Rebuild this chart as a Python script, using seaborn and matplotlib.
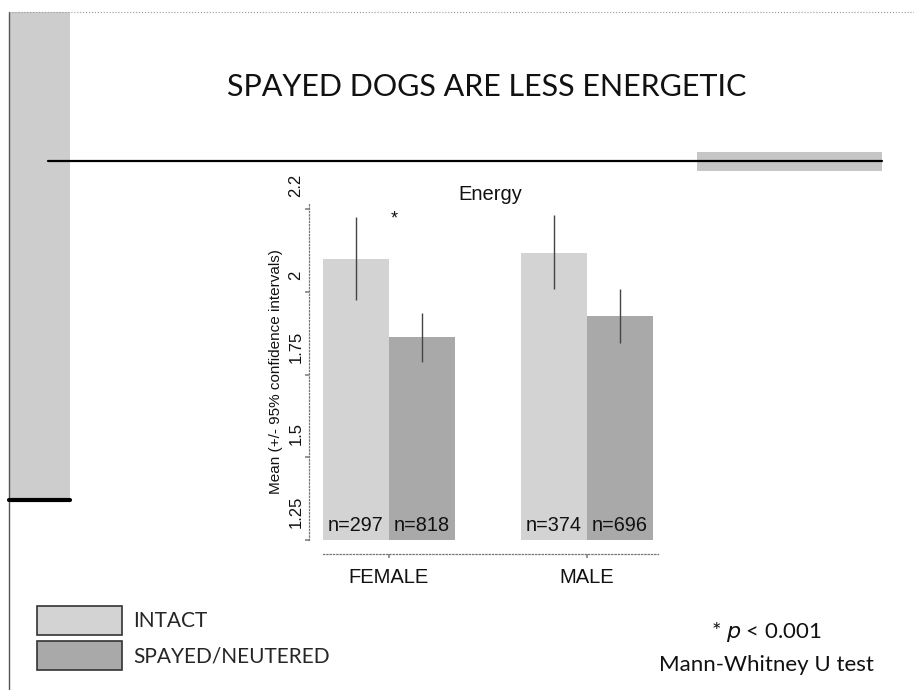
import matplotlib
matplotlib.use("Agg")
import matplotlib.pyplot as plt
import matplotlib.patches as mpatches
import matplotlib.transforms as mtransforms
import seaborn as sns
import pandas as pd

# ---- data ----
sexes = ["FEMALE", "FEMALE", "MALE", "MALE"]
status = ["INTACT", "SPAYED/NEUTERED", "INTACT", "SPAYED/NEUTERED"]
means = [2.10, 1.863, 2.119, 1.927]
ci_low = [1.976, 1.789, 2.009, 1.845]
ci_high = [2.227, 1.937, 2.233, 2.009]
n_labels = ["n=297", "n=818", "n=374", "n=696"]
ytick_vals = [1.25, 1.5, 1.75, 2.0, 2.25]
ytick_labels = ["1.25", "1.5", "1.75", "2", "2.2"]

df = pd.DataFrame({"sex": sexes, "status": status, "mean": means,
                   "lo": ci_low, "hi": ci_high, "n": n_labels})

sns.set_theme(style="white")
plt.rcParams["font.family"] = ["Liberation Sans", "DejaVu Sans"]

W, H = 914, 690
fig = plt.figure(figsize=(W / 100, H / 100), dpi=100)

def fx(px):
    return px / W

def fy(py):
    return 1 - py / H

SLIDE_FONT = ["Lato", "DejaVu Sans"]

# ---- slide decoration ----
deco = fig.add_axes([0, 0, 1, 1], zorder=0)
deco.set_xlim(0, W)
deco.set_ylim(H, 0)
deco.axis("off")
deco.add_patch(mpatches.Rectangle((10, 12), 60, 488, color="#cdcdcd", lw=0))
deco.add_patch(mpatches.Rectangle((697, 152), 185, 19, color="#c6c6c6", lw=0))
deco.plot([9, 9], [12, 690], color="#555555", lw=1)
deco.plot([9, 914], [12, 12], color="#999999", lw=0.8, ls=":")
deco.plot([48, 882], [161, 161], color="black", lw=1.6)
deco.plot([9, 70], [500, 500], color="black", lw=3)

fig.text(fx(487), fy(87), "SPAYED DOGS ARE LESS ENERGETIC", ha="center", va="center",
         fontsize=22, family=SLIDE_FONT, color="#111111")

# ---- chart ----
ax = fig.add_axes([fx(323), fy(540), fx(658) - fx(323), fy(203) - fy(540)], zorder=1)
ax.patch.set_alpha(0)
palette = {"INTACT": "#d3d3d3", "SPAYED/NEUTERED": "#a9a9a9"}
sns.barplot(data=df, x="sex", y="mean", hue="status", palette=palette,
            errorbar=None, width=0.667, ax=ax, saturation=1, linewidth=0)

ax.set_xlim(-0.333, 1.36)
ax.set_ylim(1.25, 2.269)

bars = [p for p in ax.patches if p.get_height() > 0][:4]
sorted_bars = sorted(bars, key=lambda b: b.get_x())
for bar, (_, row) in zip(sorted_bars, df.iterrows()):
    xc = bar.get_x() + bar.get_width() / 2
    ax.errorbar([xc], [row["mean"]], yerr=[[row["mean"] - row["lo"]], [row["hi"] - row["mean"]]],
                fmt="none", ecolor="#444444", elinewidth=1, capsize=0, zorder=3)
    ax.text(xc, 1.295, row["n"], ha="center", va="center", fontsize=14.3, color="#111111")

ax.text(0.025, 2.22, "*", ha="center", va="center", fontsize=13, color="#111111")
ax.set_title("Energy", fontsize=14.5, pad=2, color="#111111", x=0.5)

ax.set_yticks(ytick_vals)
ax.set_yticklabels(ytick_labels)
ax.set_ylabel("Mean (+/- 95% confidence intervals)", fontsize=11, labelpad=4, color="#111111")
ax.set_xlabel("")
ax.tick_params(axis="x", labelsize=14.5, length=3, color="#888888", pad=7, bottom=True,
               labelcolor="#111111")
ax.tick_params(axis="y", labelsize=12, length=3, color="#888888", pad=1, left=True,
               labelrotation=90, labelcolor="#111111")
sns.despine(ax=ax, offset=10)
for s in ["left", "bottom"]:
    ax.spines[s].set_linestyle(":")
    ax.spines[s].set_color("#777777")
    ax.spines[s].set_linewidth(0.9)

shift = mtransforms.ScaledTranslation(0, 12 / 100, fig.dpi_scale_trans)
for lbl in ax.get_yticklabels():
    lbl.set_va("bottom")
    lbl.set_transform(lbl.get_transform() + shift)

handles, labels = ax.get_legend_handles_labels()
if ax.get_legend() is not None:
    ax.get_legend().remove()
leg = fig.legend(handles, labels, loc="upper left", bbox_to_anchor=(fx(37), fy(606)),
                 frameon=False, handlelength=4.1, handleheight=1.75,
                 labelspacing=0.3, handletextpad=0.5, borderpad=0, borderaxespad=0,
                 prop={"family": SLIDE_FONT, "size": 15})
for p in leg.get_patches():
    p.set_edgecolor("#333333")
    p.set_linewidth(1.2)

fig.text(fx(766), fy(632), r"* $\it{p}$ < 0.001", ha="center", va="center", fontsize=16,
         family=SLIDE_FONT, color="#111111")
fig.text(fx(766), fy(665), "Mann-Whitney U test", ha="center", va="center", fontsize=16,
         family=SLIDE_FONT, color="#111111")

fig.savefig("out.png", dpi=100)
